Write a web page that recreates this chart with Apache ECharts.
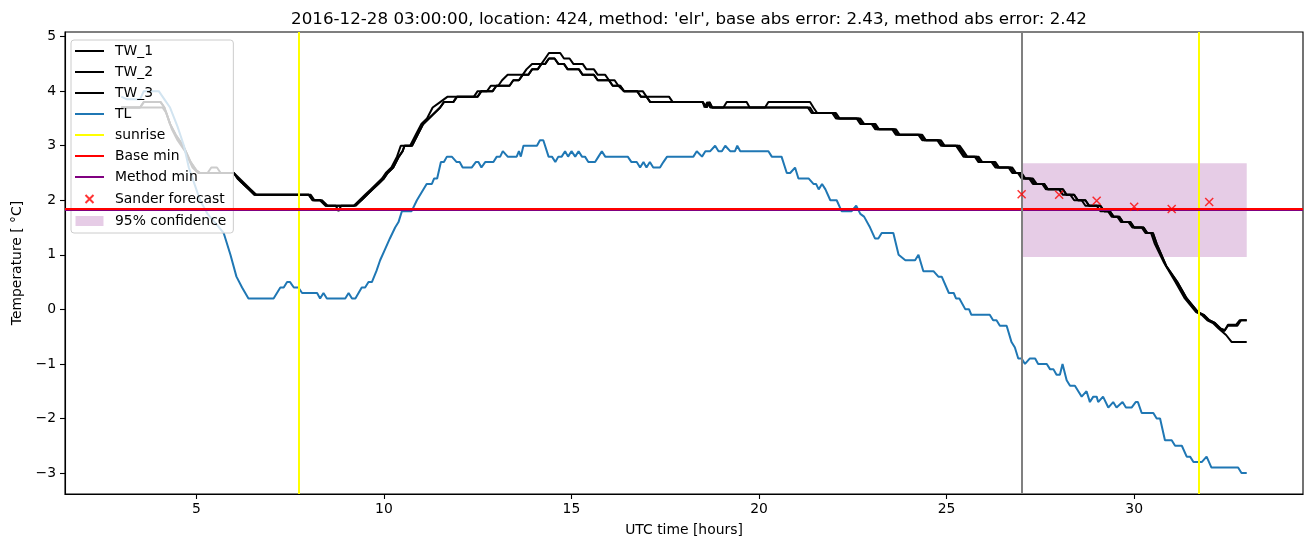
<!DOCTYPE html>
<html>
<head>
<meta charset="utf-8">
<script src="https://cdn.jsdelivr.net/npm/echarts@6/dist/echarts.min.js"></script>
<style>html,body{margin:0;padding:0;background:#fff}#c{width:1313px;height:547px}</style>
</head>
<body>
<div id="c"></div>
<script>
const TITLE = "2016-12-28 03:00:00, location: 424, method: 'elr', base abs error: 2.43, method abs error: 2.42";
const X_TICKS = [5, 10, 15, 20, 25, 30];
const Y_TICKS = [-3, -2, -1, 0, 1, 2, 3, 4, 5];
const X_RANGE = [1.5, 34.5];
const Y_RANGE = [-3.385, 5.085];

const TW_1 = [[3.0,3.7],[3.5,3.7],[3.6,3.8],[4.05,3.8],[4.15,3.7],[4.3,3.4],[4.45,3.2],[4.65,3.0],[4.85,2.7],[5.0,2.55],[5.1,2.5],[5.3,2.5],[5.4,2.6],[5.55,2.6],[5.65,2.5],[6.0,2.5],[6.1,2.4],[6.25,2.3],[6.4,2.2],[6.55,2.1],[8.0,2.1],[8.1,2.0],[8.3,2.0],[8.45,1.9],[9.2,1.9],[9.35,2.0],[9.5,2.1],[9.65,2.2],[9.8,2.3],[9.95,2.4],[10.05,2.5],[10.2,2.6],[10.35,2.8],[10.45,3.0],[10.7,3.0],[10.85,3.2],[11.0,3.4],[11.15,3.5],[11.3,3.7],[11.5,3.8],[11.7,3.9],[12.4,3.9],[12.5,4.0],[12.75,4.0],[12.85,4.1],[13.05,4.1],[13.15,4.2],[13.3,4.3],[13.7,4.3],[13.8,4.4],[13.95,4.5],[14.2,4.5],[14.3,4.6],[14.4,4.7],[14.7,4.7],[14.8,4.6],[14.95,4.6],[15.05,4.5],[15.3,4.5],[15.4,4.4],[15.6,4.4],[15.7,4.3],[15.9,4.3],[16.0,4.2],[16.15,4.2],[16.25,4.1],[16.4,4.0],[16.9,4.0],[17.0,3.9],[17.6,3.9],[17.7,3.8],[18.5,3.8],[18.6,3.7],[18.68,3.8],[18.75,3.7],[19.05,3.7],[19.14,3.8],[19.67,3.8],[19.75,3.7],[20.16,3.7],[20.25,3.8],[21.36,3.8],[21.45,3.7],[21.55,3.6],[22.05,3.6],[22.15,3.5],[22.7,3.5],[22.8,3.4],[23.1,3.4],[23.2,3.3],[23.65,3.3],[23.75,3.2],[24.35,3.2],[24.45,3.1],[24.85,3.1],[24.95,3.0],[25.35,3.0],[25.45,2.9],[25.55,2.8],[25.85,2.8],[25.95,2.7],[26.3,2.7],[26.4,2.6],[26.75,2.6],[26.85,2.5],[27.0,2.5],[27.1,2.4],[27.3,2.4],[27.4,2.3],[27.6,2.3],[27.7,2.2],[28.1,2.2],[28.2,2.1],[28.4,2.1],[28.5,2.0],[28.7,2.0],[28.8,1.9],[29.1,1.9],[29.2,1.8],[29.35,1.8],[29.45,1.7],[29.6,1.7],[29.7,1.6],[29.9,1.6],[30.0,1.5],[30.25,1.5],[30.35,1.4],[30.5,1.4],[30.6,1.2],[30.85,0.8],[31.15,0.5],[31.4,0.2],[31.7,-0.05],[31.85,-0.1],[32.0,-0.2],[32.15,-0.25],[32.3,-0.35],[32.4,-0.4],[32.5,-0.3],[32.75,-0.3],[32.85,-0.2],[33.0,-0.2]];

const TW_2 = [[3.0,3.7],[3.6,3.7],[4.1,3.7],[4.2,3.6],[4.35,3.3],[4.5,3.1],[4.7,2.9],[4.9,2.6],[5.05,2.5],[6.0,2.5],[6.15,2.4],[6.3,2.3],[6.45,2.2],[6.6,2.1],[8.05,2.1],[8.15,2.0],[8.35,2.0],[8.5,1.9],[9.25,1.9],[9.4,2.0],[9.55,2.1],[9.7,2.2],[9.85,2.3],[10.0,2.4],[10.1,2.5],[10.25,2.6],[10.4,2.8],[10.5,2.9],[10.55,3.0],[10.75,3.0],[10.9,3.2],[11.05,3.4],[11.2,3.5],[11.35,3.6],[11.5,3.7],[11.6,3.8],[11.85,3.8],[11.95,3.9],[12.5,3.9],[12.6,4.0],[12.9,4.0],[13.0,4.1],[13.35,4.1],[13.45,4.2],[13.6,4.2],[13.7,4.3],[13.85,4.3],[13.95,4.4],[14.1,4.4],[14.2,4.5],[14.3,4.5],[14.4,4.6],[14.55,4.6],[14.65,4.5],[14.8,4.5],[14.9,4.4],[15.2,4.4],[15.3,4.3],[15.6,4.3],[15.7,4.2],[16.0,4.2],[16.1,4.1],[16.3,4.1],[16.4,4.0],[16.75,4.0],[16.85,3.9],[17.0,3.9],[17.1,3.8],[18.5,3.8],[18.55,3.7],[18.62,3.8],[18.7,3.7],[21.3,3.7],[21.4,3.6],[21.95,3.6],[22.05,3.5],[22.6,3.5],[22.7,3.4],[23.0,3.4],[23.1,3.3],[23.55,3.3],[23.65,3.2],[24.25,3.2],[24.35,3.1],[24.75,3.1],[24.85,3.0],[25.25,3.0],[25.35,2.9],[25.45,2.8],[25.75,2.8],[25.85,2.7],[26.2,2.7],[26.3,2.6],[26.65,2.6],[26.75,2.5],[26.9,2.5],[27.0,2.4],[27.2,2.4],[27.3,2.3],[27.55,2.3],[27.65,2.2],[28.0,2.2],[28.1,2.1],[28.3,2.1],[28.4,2.0],[28.6,2.0],[28.7,1.9],[29.0,1.9],[29.1,1.8],[29.3,1.8],[29.4,1.7],[29.55,1.7],[29.65,1.6],[29.85,1.6],[29.95,1.5],[30.2,1.5],[30.3,1.4],[30.45,1.4],[30.55,1.2],[30.8,0.85],[31.1,0.5],[31.35,0.2],[31.65,-0.05],[31.8,-0.1],[31.95,-0.2],[32.1,-0.25],[32.25,-0.35],[32.45,-0.47],[32.6,-0.6],[33.0,-0.6]];

const TW_3 = [[3.0,3.7],[3.5,3.7],[3.6,3.8],[4.05,3.8],[4.15,3.7],[4.3,3.4],[4.45,3.2],[4.65,3.0],[4.85,2.7],[5.0,2.55],[5.1,2.5],[6.0,2.5],[6.1,2.4],[6.25,2.3],[6.4,2.2],[6.55,2.1],[8.0,2.1],[8.1,2.0],[8.3,2.0],[8.45,1.9],[8.72,1.9],[8.79,1.8],[8.86,1.9],[9.2,1.9],[9.4,2.0],[9.55,2.1],[9.7,2.2],[9.85,2.3],[10.0,2.4],[10.1,2.5],[10.25,2.6],[10.4,2.8],[10.5,2.9],[10.55,3.0],[10.75,3.0],[10.9,3.2],[11.05,3.4],[11.2,3.5],[11.35,3.6],[11.5,3.7],[11.6,3.8],[11.85,3.8],[11.95,3.9],[12.5,3.9],[12.6,4.0],[12.9,4.0],[13.0,4.1],[13.35,4.1],[13.45,4.2],[13.6,4.2],[13.7,4.3],[13.85,4.3],[13.95,4.4],[14.1,4.4],[14.2,4.5],[14.3,4.5],[14.4,4.6],[14.55,4.6],[14.65,4.5],[14.8,4.5],[14.9,4.4],[15.2,4.4],[15.3,4.3],[15.6,4.3],[15.7,4.2],[16.0,4.2],[16.1,4.1],[16.3,4.1],[16.4,4.0],[16.75,4.0],[16.85,3.9],[17.0,3.9],[17.1,3.8],[18.5,3.8],[18.6,3.7],[18.68,3.8],[18.75,3.7],[21.36,3.7],[21.45,3.6],[22.0,3.6],[22.1,3.5],[22.65,3.5],[22.75,3.4],[23.05,3.4],[23.15,3.3],[23.6,3.3],[23.7,3.2],[24.3,3.2],[24.4,3.1],[24.8,3.1],[24.9,3.0],[25.3,3.0],[25.4,2.9],[25.5,2.8],[25.8,2.8],[25.9,2.7],[26.25,2.7],[26.35,2.6],[26.7,2.6],[26.8,2.5],[26.95,2.5],[27.05,2.4],[27.25,2.4],[27.35,2.3],[27.6,2.3],[27.7,2.2],[28.1,2.2],[28.2,2.1],[28.4,2.1],[28.5,2.0],[28.7,2.0],[28.8,1.9],[29.1,1.9],[29.2,1.8],[29.35,1.8],[29.45,1.7],[29.6,1.7],[29.7,1.6],[29.9,1.6],[30.0,1.5],[30.25,1.5],[30.35,1.4],[30.5,1.4],[30.6,1.2],[30.85,0.8],[31.15,0.5],[31.4,0.2],[31.7,-0.05],[31.85,-0.1],[32.0,-0.2],[32.15,-0.25],[32.3,-0.35],[32.42,-0.38],[32.5,-0.28],[32.72,-0.28],[32.81,-0.2],[33.0,-0.2]];

const TL = [[3.0,3.9],[3.15,3.85],[3.5,3.85],[3.6,4.0],[4.0,4.0],[4.15,3.85],[4.3,3.7],[4.5,3.35],[4.67,3.0],[4.8,2.6],[4.95,2.3],[5.1,2.0],[5.3,1.75],[5.55,1.55],[5.73,1.4],[5.91,1.0],[6.07,0.6],[6.22,0.4],[6.39,0.2],[7.06,0.2],[7.24,0.4],[7.33,0.4],[7.42,0.5],[7.5,0.5],[7.6,0.4],[7.72,0.4],[7.82,0.3],[8.22,0.3],[8.3,0.2],[8.39,0.3],[8.48,0.2],[8.97,0.2],[9.06,0.3],[9.15,0.2],[9.24,0.2],[9.41,0.4],[9.5,0.4],[9.59,0.5],[9.68,0.5],[9.8,0.7],[9.9,0.9],[10.03,1.1],[10.16,1.3],[10.3,1.5],[10.39,1.6],[10.48,1.8],[10.74,1.8],[10.88,2.0],[11.14,2.3],[11.28,2.3],[11.34,2.4],[11.42,2.4],[11.52,2.7],[11.6,2.7],[11.68,2.8],[11.81,2.8],[11.94,2.7],[12.02,2.7],[12.1,2.6],[12.34,2.6],[12.45,2.7],[12.52,2.7],[12.6,2.6],[12.7,2.7],[12.92,2.7],[13.01,2.8],[13.1,2.8],[13.17,2.9],[13.22,2.9],[13.3,2.8],[13.54,2.8],[13.6,2.9],[13.65,2.8],[13.72,3.0],[14.08,3.0],[14.16,3.1],[14.25,3.1],[14.39,2.8],[14.48,2.8],[14.57,2.7],[14.65,2.8],[14.74,2.8],[14.83,2.9],[14.91,2.8],[15.0,2.9],[15.1,2.8],[15.19,2.9],[15.28,2.8],[15.36,2.8],[15.45,2.7],[15.63,2.7],[15.72,2.8],[15.81,2.9],[15.9,2.8],[16.5,2.8],[16.6,2.7],[16.74,2.7],[16.83,2.6],[16.92,2.7],[17.0,2.6],[17.09,2.7],[17.18,2.6],[17.36,2.6],[17.45,2.7],[17.55,2.8],[18.25,2.8],[18.34,2.9],[18.48,2.8],[18.57,2.9],[18.7,2.9],[18.83,3.0],[18.92,2.9],[19.01,2.9],[19.1,3.0],[19.23,2.9],[19.36,2.9],[19.42,3.0],[19.5,2.9],[20.25,2.9],[20.34,2.8],[20.6,2.8],[20.74,2.5],[20.83,2.5],[20.96,2.6],[21.05,2.4],[21.32,2.4],[21.45,2.3],[21.52,2.3],[21.59,2.2],[21.68,2.3],[21.77,2.2],[21.9,2.0],[22.07,2.0],[22.2,1.8],[22.47,1.8],[22.59,1.9],[22.7,1.75],[22.8,1.7],[22.96,1.5],[23.09,1.3],[23.18,1.3],[23.27,1.4],[23.58,1.4],[23.72,1.0],[23.9,0.9],[24.16,0.9],[24.25,1.0],[24.38,0.7],[24.65,0.7],[24.78,0.6],[24.87,0.6],[25.06,0.3],[25.19,0.3],[25.25,0.2],[25.34,0.2],[25.5,0.0],[25.6,0.0],[25.66,-0.1],[26.15,-0.1],[26.24,-0.2],[26.33,-0.2],[26.42,-0.3],[26.6,-0.3],[26.73,-0.6],[26.82,-0.7],[26.91,-0.9],[27.0,-0.9],[27.09,-1.0],[27.22,-0.9],[27.36,-0.9],[27.44,-1.0],[27.67,-1.0],[27.76,-1.1],[27.85,-1.1],[27.93,-1.2],[28.02,-1.2],[28.09,-1.0],[28.2,-1.3],[28.29,-1.4],[28.42,-1.4],[28.51,-1.5],[28.6,-1.6],[28.73,-1.5],[28.82,-1.7],[28.91,-1.6],[29.0,-1.6],[29.04,-1.7],[29.17,-1.6],[29.31,-1.8],[29.44,-1.7],[29.53,-1.8],[29.69,-1.7],[29.78,-1.8],[29.93,-1.8],[30.04,-1.7],[30.1,-1.7],[30.2,-1.9],[30.51,-1.9],[30.6,-2.0],[30.69,-2.0],[30.82,-2.4],[31.0,-2.4],[31.09,-2.5],[31.27,-2.5],[31.4,-2.7],[31.49,-2.7],[31.58,-2.8],[31.8,-2.8],[31.93,-2.7],[32.06,-2.9],[32.77,-2.9],[32.86,-3.0],[33.0,-3.0]];

const SUNRISE = [7.73, 31.73];
const FORECAST_TIME = [27];
const BASE_MIN = 1.845;
const METHOD_MIN = 1.83;
const SANDER_X = [27, 28, 29, 30, 31, 32];
const SANDER_Y = [2.11, 2.10, 1.99, 1.88, 1.84, 1.97];
const CONF_X = [27, 33];
const CONF_Y = [0.96, 2.68];

const FONT = "DejaVu Sans";
const LINE_ICON = 'path://M0,0 M29,0 M29,14 M0,14 M0,6 L29,6 L29,8 L0,8 Z';
const chart = echarts.init(document.getElementById('c'), null, {renderer: 'canvas'});
const fmtMinus = v => String(v).replace('-', '\u2212');
const vline = (vals, color) => ({silent: true, symbol: ['none','none'], label: {show: false}, animation: false,
  lineStyle: {color: color, width: 2, type: 'solid'}, emphasis: {disabled: true},
  data: vals.map(v => ({xAxis: v}))});
const hline = (val, color) => ({silent: true, symbol: ['none','none'], label: {show: false}, animation: false,
  lineStyle: {color: color, width: 2, type: 'solid'}, emphasis: {disabled: true},
  data: [{yAxis: val}]});
const twSeries = (name, data) => ({name, type: 'line', data, symbol: 'none', z: 3,
  lineStyle: {color: '#000', width: 2}, itemStyle: {color: '#000'}, emphasis: {disabled: true}});

const option = {
  animation: false,
  title: {text: TITLE, left: 684, top: 6, textAlign: 'center',
    textStyle: {fontFamily: FONT, fontSize: 16.7, fontWeight: 'normal', color: '#000'}},
  grid: {left: 65, right: 10, top: 32, bottom: 53, show: true, borderColor: '#000', borderWidth: 1.1, backgroundColor: 'transparent'},
  xAxis: {type: 'value', min: X_RANGE[0], max: X_RANGE[1],
    name: 'UTC time [hours]', nameLocation: 'middle', nameGap: 29,
    nameTextStyle: {fontFamily: FONT, fontSize: 13.9, color: '#000'},
    axisLine: {show: true, onZero: false, lineStyle: {color: '#000', width: 1.1}},
    axisTick: {show: true, length: 5, lineStyle: {color: '#000', width: 1.1}, customValues: X_TICKS},
    axisLabel: {fontFamily: FONT, fontSize: 13.9, color: '#000', margin: 8, customValues: X_TICKS},
    splitLine: {show: false}},
  yAxis: {type: 'value', min: Y_RANGE[0], max: Y_RANGE[1],
    name: 'Temperature [ \u00b0C]', nameLocation: 'middle', nameGap: 40, nameRotate: 90,
    nameTextStyle: {fontFamily: FONT, fontSize: 13.9, color: '#000'},
    axisLine: {show: true, onZero: false, lineStyle: {color: '#000', width: 1.1}},
    axisTick: {show: true, length: 5, lineStyle: {color: '#000', width: 1.1}, customValues: Y_TICKS},
    axisLabel: {fontFamily: FONT, fontSize: 13.9, color: '#000', margin: 9, customValues: Y_TICKS, formatter: fmtMinus},
    splitLine: {show: false}},
  legend: {
    orient: 'vertical', left: 71, top: 40, itemWidth: 29, itemHeight: 14, itemGap: 7,
    padding: [4, 7, 5, 3], backgroundColor: 'rgba(255,255,255,0.8)', borderColor: '#cccccc', borderWidth: 1, borderRadius: 3,
    textStyle: {fontFamily: FONT, fontSize: 13.9, color: '#000', padding: [0, 0, 0, 6]},
    selectedMode: false,
    data: [
      {name: 'TW_1', icon: LINE_ICON}, {name: 'TW_2', icon: LINE_ICON}, {name: 'TW_3', icon: LINE_ICON},
      {name: 'TL', icon: LINE_ICON}, {name: 'sunrise', icon: LINE_ICON},
      {name: 'Base min', icon: LINE_ICON}, {name: 'Method min', icon: LINE_ICON},
      {name: 'Sander forecast', icon: 'path://M0,0 M29,0 M29,14 M0,14 M10.5,3 L18.5,11 M18.5,3 L10.5,11'},
      {name: '95% confidence', icon: 'path://M0,0 M29,0 M29,14 M0,14 M0.5,2 L28.5,2 L28.5,12 L0.5,12 Z'}
    ]
  },
  series: [
    twSeries('TW_1', TW_1),
    twSeries('TW_2', TW_2),
    twSeries('TW_3', TW_3),
    {name: 'TL', type: 'line', data: TL, symbol: 'none', z: 3,
      lineStyle: {color: '#1f77b4', width: 2}, itemStyle: {color: '#1f77b4'}, emphasis: {disabled: true}},
    {name: 'sunrise', type: 'line', data: [], symbol: 'none', z: 4,
      lineStyle: {color: '#ffff00', width: 2}, itemStyle: {color: '#ffff00'}, markLine: vline(SUNRISE, '#ffff00')},
    {name: 'Method min', type: 'line', data: [], symbol: 'none', z: 4,
      lineStyle: {color: '#800080', width: 2}, itemStyle: {color: '#800080'}, markLine: hline(METHOD_MIN, '#800080')},
    {name: 'Base min', type: 'line', data: [], symbol: 'none', z: 5,
      lineStyle: {color: '#ff0000', width: 2}, itemStyle: {color: '#ff0000'}, markLine: hline(BASE_MIN, '#ff0000')},
    {name: 'forecast time', type: 'line', data: [], symbol: 'none', z: 5,
      lineStyle: {color: '#808080', width: 2}, itemStyle: {color: '#808080'}, markLine: vline(FORECAST_TIME, '#808080')},
    {name: 'Sander forecast', type: 'scatter', z: 6,
      data: SANDER_X.map((x, i) => [x, SANDER_Y[i]]),
      symbol: 'path://M0,0 L8,8 M8,0 L0,8', symbolSize: 8,
      itemStyle: {color: '#ff0000', borderColor: '#ff0000', borderWidth: 1.5}, emphasis: {disabled: true}},
    {name: '95% confidence', type: 'custom', z: 1,
      data: [[CONF_X[0], CONF_Y[0], CONF_X[1], CONF_Y[1]]],
      encode: {x: [0, 2], y: [1, 3]},
      itemStyle: {color: 'rgba(128,0,128,0.2)'},
      renderItem: function (params, api) {
        const p0 = api.coord([api.value(0), api.value(3)]);
        const p1 = api.coord([api.value(2), api.value(1)]);
        return {type: 'rect', shape: {x: p0[0], y: p0[1], width: p1[0] - p0[0], height: p1[1] - p0[1]},
          style: {fill: 'rgba(128,0,128,0.2)'}};
      }}
  ]
};
chart.setOption(option);
</script>
</body>
</html>
